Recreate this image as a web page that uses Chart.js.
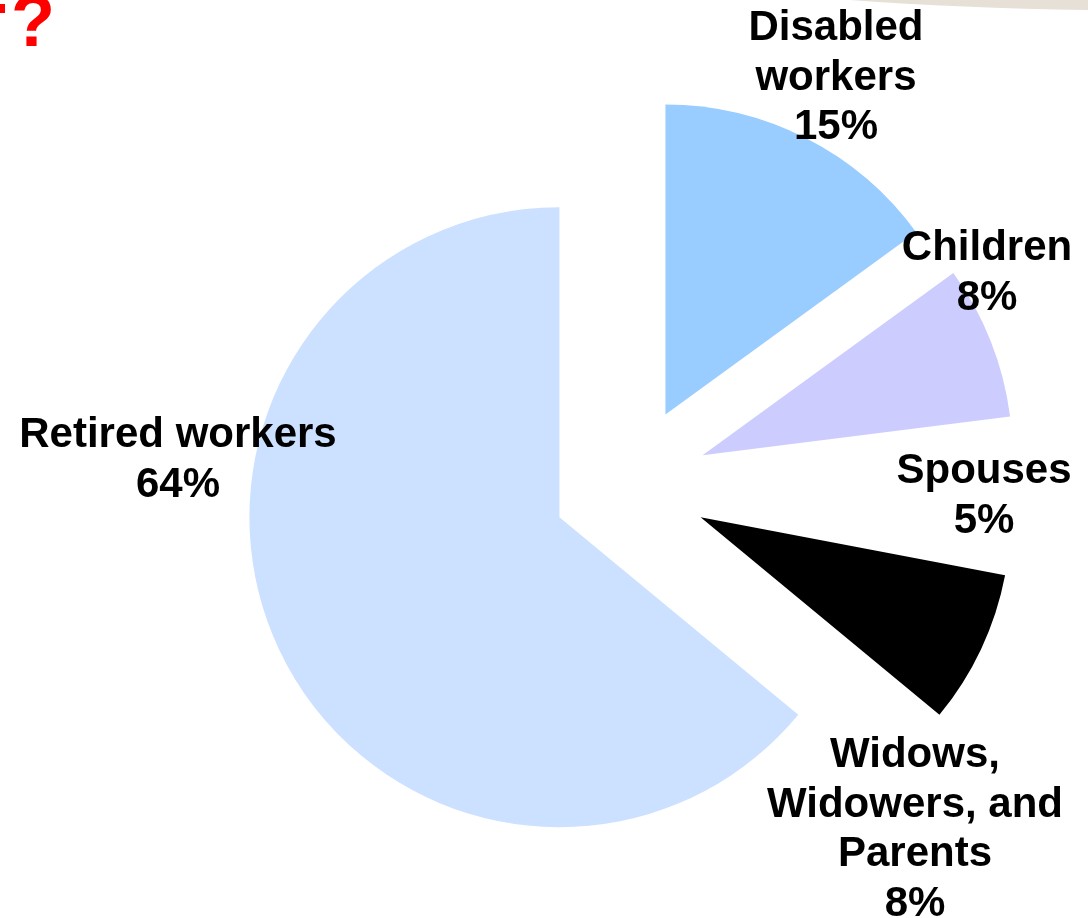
<!DOCTYPE html>
<html>
<head>
<meta charset="utf-8">
<title>Beneficiaries</title>
<script src="https://cdn.jsdelivr.net/npm/chart.js@4.4.1/dist/chart.umd.min.js"></script>
<style>
    html, body { margin: 0; padding: 0; background: #fff; }
    #wrap { width: 1088px; height: 918px; position: relative; }
</style>
</head>
<body>
<div id="wrap"><canvas id="pieChart" width="1088" height="918"></canvas></div>
<script>
// Chart data
const categories = ['Disabled workers', 'Children', 'Spouses', 'Widows, Widowers, and Parents', 'Retired workers'];
const shares = [15, 8, 5, 8, 64];
const labelLines = [
    ['Disabled', 'workers'],
    ['Children'],
    ['Spouses'],
    ['Widows,', 'Widowers, and', 'Parents'],
    ['Retired workers']
];
const sliceColors = ['#99CCFF', '#CCCCFF', '#FFFFFF', '#000000', '#CCE0FF'];

// Label anchors relative to the pie centre (first baseline, centred text)
const labelOffsets = [
    { dx: 206, dy: -444 },
    { dx: 357, dy: -224 },
    { dx: 354, dy: -1 },
    { dx: 285, dy: 283 },
    { dx: -452, dy: -37 }
];
const explodeDistance = 78;
const lineHeight = 49.5;

// Pull every slice out from the centre along its mid angle
const explodePlugin = {
    id: 'explode',
    beforeDatasetDraw(chart, args) {
        const ctx = chart.ctx;
        args.meta.data.forEach(arc => {
            const mid = (arc.startAngle + arc.endAngle) / 2;
            ctx.save();
            ctx.translate(Math.cos(mid) * explodeDistance, Math.sin(mid) * explodeDistance);
            arc.draw(ctx);
            ctx.restore();
        });
        return false;
    }
};

// Slice labels with percentages
const labelPlugin = {
    id: 'sliceLabels',
    afterDatasetsDraw(chart) {
        const ctx = chart.ctx;
        const arc = chart.getDatasetMeta(0).data[0];
        ctx.save();
        ctx.font = 'bold 42px "Liberation Sans", Arial, sans-serif';
        ctx.fillStyle = '#000';
        ctx.textAlign = 'center';
        ctx.textBaseline = 'alphabetic';
        labelLines.forEach((lines, i) => {
            const x = arc.x + labelOffsets[i].dx;
            const y = arc.y + labelOffsets[i].dy;
            const all = [...lines, shares[i] + '%'];
            all.forEach((t, j) => ctx.fillText(t, x, y + j * lineHeight));
        });
        ctx.restore();
    }
};

// Bits of the slide around the chart (title mark and banner edge)
const slidePlugin = {
    id: 'slideDecor',
    beforeDraw(chart) {
        const ctx = chart.ctx;
        ctx.save();
        ctx.fillStyle = '#E7E0D7';
        ctx.beginPath();
        ctx.moveTo(850, 0);
        ctx.quadraticCurveTo(960, 8, 1088, 10);
        ctx.lineTo(1088, 0);
        ctx.closePath();
        ctx.fill();
        ctx.fillStyle = '#FF0000';
        ctx.font = 'bold 72px "Liberation Sans", Arial, sans-serif';
        ctx.textAlign = 'left';
        ctx.textBaseline = 'alphabetic';
        ctx.fillText('?', 11, 46);
        ctx.fillRect(0, 4, 5, 9);
        ctx.restore();
    }
};

new Chart(document.getElementById('pieChart'), {
    type: 'pie',
    data: {
        labels: categories,
        datasets: [{
            data: shares,
            backgroundColor: sliceColors,
            borderWidth: 0
        }]
    },
    options: {
        responsive: false,
        animation: false,
        radius: 310,
        layout: { padding: { left: 172, top: 50, right: 0, bottom: 0 } },
        plugins: {
            legend: { display: false },
            tooltip: { enabled: false }
        }
    },
    plugins: [slidePlugin, explodePlugin, labelPlugin]
});
</script>
</body>
</html>
